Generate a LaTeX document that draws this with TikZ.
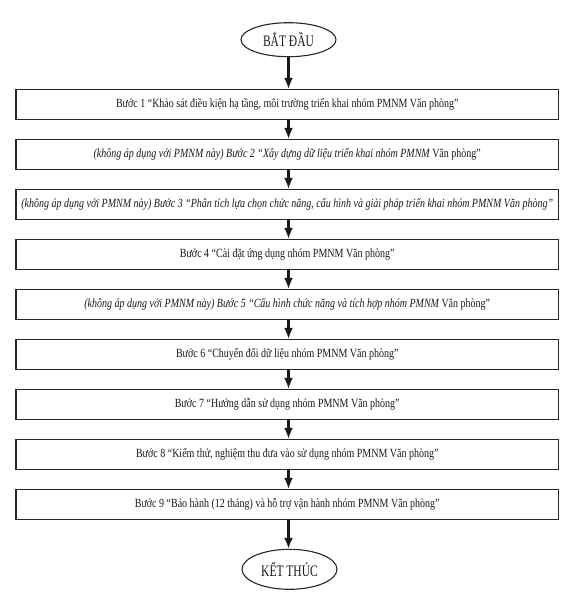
\documentclass[tikz,border=0pt]{standalone}
\usepackage{fontspec}
\setmainfont[FakeStretch=0.8]{Liberation Serif}
\newfontfamily\ellfont[FakeStretch=0.72]{Liberation Serif}
\usetikzlibrary{arrows.meta,shapes.geometric}
\begin{document}
\begin{tikzpicture}[x=1pt,y=-1pt,
  stepbox/.style={draw=black!85,line width=1.2pt,minimum width=542.5pt,minimum height=30pt,inner sep=0pt,text=black!90,font=\fontsize{12.5}{14}\selectfont},
  term/.style={ellipse,draw=black!85,line width=1.1pt,minimum width=95pt,inner sep=0pt,text=black!90,font=\ellfont\fontsize{16}{18}\selectfont},
  flow/.style={draw=black!90,line width=2.3pt,-{Latex[length=11pt,width=9pt]}}]
\useasboundingbox (0,0) rectangle (575,603);
\node[term,minimum height=34pt] (start) at (288.5,39.7) {BẮT ĐẦU};
\node[stepbox] (s1) at (287.25,104.5) {Bước 1 “Khảo sát điều kiện hạ tầng, môi trường triển khai nhóm PMNM Văn phòng”};
\node[stepbox] (s2) at (287.25,154.5) {\itshape (không áp dụng với PMNM này) Bước 2 “Xây dựng dữ liệu triển khai nhóm PMNM \upshape Văn phòng”};
\node[stepbox] (s3) at (287.25,204.5) {\itshape (không áp dụng với PMNM này) Bước 3 “Phân tích lựa chọn chức năng, cấu hình và giải pháp triển khai nhóm PMNM Văn phòng”};
\node[stepbox] (s4) at (287.25,254.5) {Bước 4 “Cài đặt ứng dụng nhóm PMNM Văn phòng”};
\node[stepbox] (s5) at (287.25,304.5) {\itshape (không áp dụng với PMNM này) Bước 5 “Cấu hình chức năng và tích hợp nhóm PMNM \upshape Văn phòng”};
\node[stepbox] (s6) at (287.25,354.5) {Bước 6 “Chuyển đổi dữ liệu nhóm PMNM Văn phòng”};
\node[stepbox] (s7) at (287.25,404.5) {Bước 7 “Hướng dẫn sử dụng nhóm PMNM Văn phòng”};
\node[stepbox] (s8) at (287.25,454.5) {Bước 8 “Kiểm thử, nghiệm thu đưa vào sử dụng nhóm PMNM Văn phòng”};
\node[stepbox] (s9) at (287.25,504.5) {Bước 9 “Bảo hành (12 tháng) và hỗ trợ vận hành nhóm PMNM Văn phòng”};
\node[term,minimum height=40pt] (end) at (289.5,569.3) {KẾT THÚC};
\draw[flow] (start.south -| start.south) -- (s1.north -| start.south);
\foreach \a/\b in {s1/s2,s2/s3,s3/s4,s4/s5,s5/s6,s6/s7,s7/s8,s8/s9}
  \draw[flow] (\a.south -| start.south) -- (\b.north -| start.south);
\draw[flow] (s9.south -| start.south) -- (end.north -| start.south);
\end{tikzpicture}
\end{document}
